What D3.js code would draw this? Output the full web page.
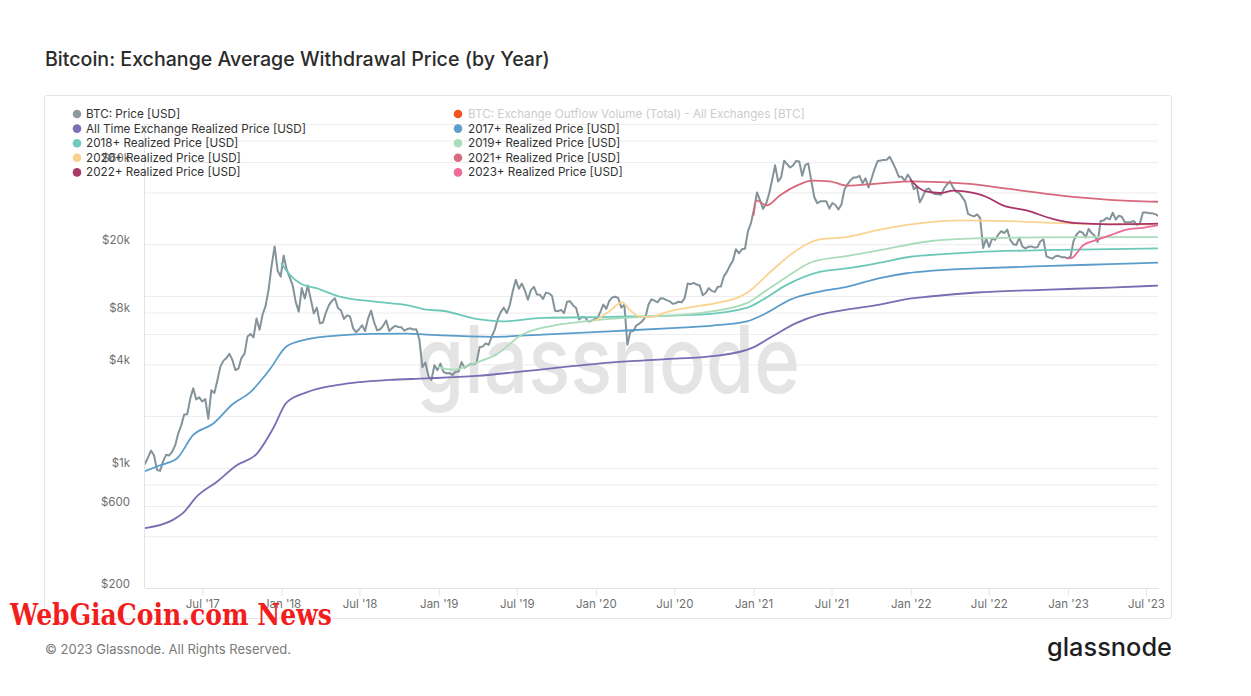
<!DOCTYPE html>
<html><head><meta charset="utf-8">
<script src="https://cdn.jsdelivr.net/npm/d3@7"></script>
<style>
html,body{margin:0;padding:0;background:#fff;}
svg{display:block;font-family:Inter,"Noto Sans",sans-serif;}
</style></head><body>
<svg id="chart" width="1251" height="696"></svg>
<script>
// ---------------- DATA ----------------
const priceStartDate = "2017-02-18"; // weekly samples from this date
const btcPrice = [
// 2017
1055,1150,1260,1180,970,960,1090,1190,1180,1240,1350,1580,1760,2040,2050,2520,2900,2500,2570,2430,2510,1930,2830,2720,3220,3880,4190,4350,4600,4230,3700,3780,4360,4600,5800,6000,5750,7400,6350,7800,8750,10900,15000,19400,14000,12950,
// 2018
17200,14200,12800,11500,9200,8100,11100,9650,11500,9550,7900,8550,6920,7000,8000,8850,9350,9700,8500,8230,7350,7700,7600,6500,6150,6400,6750,6250,7400,8200,7030,6300,6400,6700,7200,6250,6500,6700,6600,6580,6280,6420,6480,6380,6400,5580,3850,4100,3430,3250,3950,3700,
// 2019
4040,3620,3550,3560,3470,3620,3630,4120,3820,3920,4010,4000,4110,5040,5070,5300,5200,5800,6350,7350,8050,8550,7950,8850,10700,12400,11000,11800,10750,9500,10800,11300,10200,10150,9600,10450,10350,10000,8200,8150,8300,7950,9250,9300,8800,8500,7300,7550,7500,7100,7150,7300,
// 2020
7400,8050,8900,8400,9350,9800,9900,9700,8550,8900,5200,6200,6250,6750,6900,7150,7550,8900,9550,9380,9180,9700,9650,9450,9300,9000,9070,9250,9170,9700,11800,11700,11900,11650,11500,10100,10400,11100,10700,10550,11300,11350,13000,13800,15000,16000,18700,17700,18700,18800,23800,26500,
// 2021
32000,40000,36000,32100,34300,39300,47100,57500,46300,48900,61200,58300,55800,57600,61000,60500,50000,57800,58800,46800,37500,34600,35500,35500,35500,32200,34700,33800,31800,34000,41600,44600,47100,48900,48900,50000,45200,48300,42700,48200,54900,60900,61300,61800,62000,64500,59700,54800,49400,49400,46700,50800,
// 2022
47700,41800,43100,35000,37900,41500,42200,40000,39100,39000,38800,42000,44500,46400,42800,40400,39700,37700,35500,30000,29400,29000,29800,28400,19000,21500,19300,21600,21200,22700,23800,23200,24300,21200,20000,19800,21800,19400,18900,19300,19400,19100,19200,20800,21300,17000,16700,16500,17000,17100,16800,16800,16550,
// 2023
16950,20900,22750,23750,23350,21850,24550,23200,22350,20600,27400,27500,28450,27900,30450,27800,29300,28900,26800,26850,26900,27250,25850,26350,30550,30600,30300,30300,29900,29300
];

const allTimeRP = [["2017-02-18",446],["2017-04-24",498],["2017-05-17",545],["2017-06-18",680],["2017-08-04",830],["2017-09-19",1035],["2017-11-05",1210],["2017-12-12",1687],["2018-01-13",2404],["2018-02-28",2747],["2018-04-29",3000],["2018-06-24",3137],["2018-09-09",3247],["2018-12-03",3311],["2019-03-29",3425],["2019-08-30",3743],["2020-02-01",4093],["2020-06-04",4277],["2020-10-14",4510],["2020-12-30",5000],["2021-02-14",5830],["2021-04-11",6966],["2021-06-03",7780],["2021-08-05",8317],["2021-10-21",8890],["2021-12-22",9580],["2022-02-14",9920],["2022-06-03",10470],["2022-11-03",10850],["2023-04-08",11180],["2023-07-29",11480]];

const rp2017 = [["2017-02-18",956],["2017-03-25",1035],["2017-05-03",1132],["2017-06-09",1543],["2017-07-26",1803],["2017-09-10",2350],["2017-10-20",2747],["2017-12-05",3743],["2018-01-13",5100],["2018-02-28",5580],["2018-05-16",5890],["2018-07-31",6015],["2018-10-18",6040],["2018-12-03",5960],["2019-01-10",5890],["2019-05-06",5780],["2019-08-30",5960],["2020-02-01",6225],["2020-07-06",6520],["2020-09-28",6720],["2020-12-16",7110],["2021-01-31",7950],["2021-03-26",9490],["2021-06-03",10600],["2021-08-05",11300],["2021-10-21",12700],["2021-12-22",13550],["2022-02-14",14000],["2022-06-03",14450],["2022-11-03",14900],["2023-04-08",15300],["2023-07-29",15600]];

const rp2018 = [["2018-01-01",15400],["2018-01-20",13300],["2018-02-13",11860],["2018-03-23",11090],["2018-05-16",9920],["2018-07-31",9290],["2018-10-25",8770],["2018-12-03",8315],["2019-01-10",8200],["2019-03-29",7345],["2019-05-29",7110],["2019-08-30",7445],["2020-02-01",7550],["2020-08-29",7780],["2020-12-16",8510],["2021-01-22",9490],["2021-03-19",11600],["2021-06-03",13800],["2021-08-05",14450],["2021-10-21",15600],["2022-01-01",16900],["2022-02-14",17300],["2022-06-03",18000],["2022-11-03",18450],["2023-07-29",18900]];

const rp2019 = [["2019-01-01",3850],["2019-02-02",3720],["2019-03-29",4093],["2019-05-15",4570],["2019-07-14",5960],["2019-09-15",6660],["2019-11-17",7020],["2020-02-01",7345],["2020-04-19",7550],["2020-08-29",7950],["2020-12-16",9080],["2021-01-22",10400],["2021-03-19",12900],["2021-05-18",15800],["2021-08-05",17050],["2021-10-21",18450],["2022-02-14",20800],["2022-06-03",21600],["2022-11-03",21900],["2023-07-29",22000]];

const rp2020 = [["2020-01-01",7200],["2020-02-01",8130],["2020-03-02",9160],["2020-03-19",8315],["2020-04-11",7600],["2020-05-04",7550],["2020-06-19",8130],["2020-08-29",8770],["2020-09-28",9000],["2020-12-16",10400],["2021-02-14",14150],["2021-04-11",18450],["2021-06-03",21300],["2021-08-05",22000],["2021-10-21",24300],["2022-02-14",26900],["2022-04-24",27500],["2022-08-18",27200],["2023-01-21",26300],["2023-07-29",26000]];

const rp2021 = [["2021-01-01",29500],["2021-01-08",36000],["2021-01-31",33600],["2021-03-03",38400],["2021-04-11",43800],["2021-05-18",46800],["2021-06-27",46400],["2021-08-05",43800],["2021-10-21",45200],["2022-01-05",46400],["2022-05-18",44800],["2022-08-18",41900],["2022-12-12",38400],["2023-04-08",36200],["2023-07-29",35300]];

const rp2022 = [["2022-01-01",47200],["2022-01-20",42500],["2022-02-05",40500],["2022-03-10",39700],["2022-04-10",41000],["2022-05-05",40600],["2022-06-03",39300],["2022-06-27",37500],["2022-08-03",33600],["2022-09-27",31400],["2022-11-26",28100],["2023-01-21",26500],["2023-04-08",26100],["2023-07-29",26300]];

const rp2023 = [["2023-01-01",16550],["2023-01-10",16650],["2023-01-21",17660],["2023-02-05",19700],["2023-03-08",21100],["2023-04-08",22500],["2023-05-17",24300],["2023-06-24",24900],["2023-07-29",25800]];

const yTickValues = [200,600,1000,4000,8000,20000,60000];
const yTickLabels = ["$200","$600","$1k","$4k","$8k","$20k","$60k"];
const yGridValues = [400,600,800,1000,2000,4000,6000,8000,10000,20000,40000,60000,80000,100000];
const xTickDates = ["2017-07-01","2018-01-01","2018-07-01","2019-01-01","2019-07-01","2020-01-01","2020-07-01","2021-01-01","2021-07-01","2022-01-01","2022-07-01","2023-01-01","2023-07-01"];
const xTickLabels = ["Jul '17","Jan '18","Jul '18","Jan '19","Jul '19","Jan '20","Jul '20","Jan '21","Jul '21","Jan '22","Jul '22","Jan '23","Jul '23"];

const legendNames = ["BTC: Price [USD]","BTC: Exchange Outflow Volume (Total) - All Exchanges [BTC]","All Time Exchange Realized Price [USD]","2017+ Realized Price [USD]","2018+ Realized Price [USD]","2019+ Realized Price [USD]","2020+ Realized Price [USD]","2021+ Realized Price [USD]","2022+ Realized Price [USD]","2023+ Realized Price [USD]"];
const legendColors = ["#8d9aa0","#f4511e","#7f70b5","#5f9ecb","#6ecabc","#a9dcb8","#fad08e","#d86c7e","#a83a6b","#f06b97"];
const legendHidden = [false,true,false,false,false,false,false,false,false,false];

// ---------------- CHART ----------------
const parse = d3.timeParse("%Y-%m-%d");
const svg = d3.select("#chart");
const P = {left:145, right:1158, top:124, bottom:588};

const x = d3.scaleTime().domain([parse("2017-02-18"), parse("2023-07-29")]).range([P.left, P.right]);
const y = d3.scaleLog().domain([200,100000]).range([P.bottom, P.top]);

// background card
svg.append("rect").attr("width",1251).attr("height",696).attr("fill","#fff");
svg.append("rect").attr("x",44.5).attr("y",95.5).attr("width",1127).attr("height",523)
  .attr("rx",2).attr("fill","#fff").attr("stroke","#e4e4e4");

// title
svg.append("text").attr("x",45).attr("y",66).attr("font-size",19.6).attr("font-weight",500)
  .attr("fill","#2b2b2b").text("Bitcoin: Exchange Average Withdrawal Price (by Year)");

// gridlines
svg.append("g").attr("transform",`translate(${P.left},0)`)
  .call(d3.axisLeft(y).tickValues(yGridValues).tickSize(-(P.right-P.left)).tickFormat(""))
  .call(g=>g.select(".domain").remove())
  .call(g=>g.selectAll("line").attr("stroke","#ededed"));

// y axis line
svg.append("line").attr("x1",P.left-0.5).attr("x2",P.left-0.5).attr("y1",P.top).attr("y2",P.bottom)
  .attr("stroke","#dfe4ea");

// watermark
svg.append("text").attr("x",416).attr("y",393).attr("font-size",93).attr("font-weight",500)
  .attr("fill","#e4e4e4").attr("textLength",384).attr("lengthAdjust","spacingAndGlyphs").text("glassnode");

// y axis labels
svg.append("g").attr("transform",`translate(${P.left},0)`)
  .call(d3.axisLeft(y).tickValues(yTickValues).tickSize(0).tickPadding(15).tickFormat((d,i)=>yTickLabels[i]))
  .call(g=>g.select(".domain").remove())
  .call(g=>g.selectAll("text").attr("y",-5).attr("dy","0.35em").attr("font-size",11.5)
      .attr("font-family","Inter,'Noto Sans',sans-serif").attr("fill","#6f6f6f"));

// x axis
svg.append("g").attr("transform",`translate(0,${P.bottom})`)
  .call(d3.axisBottom(x).tickValues(xTickDates.map(parse)).tickSize(8).tickSizeOuter(0).tickPadding(4)
      .tickFormat((d,i)=>xTickLabels[i]))
  .call(g=>g.select(".domain").attr("stroke","#e2e2e2"))
  .call(g=>g.selectAll(".tick line").attr("stroke","#e6e6e6"))
  .call(g=>g.selectAll("text").attr("font-size",11.5).attr("font-family","Inter,'Noto Sans',sans-serif").attr("fill","#6f6f6f"));

// lines
const startD = parse(priceStartDate);
const priceData = btcPrice.map((v,i)=>[d3.timeDay.offset(startD,7*i), v]);
const lineLin = d3.line().x(d=>x(d[0])).y(d=>y(d[1]));
const lineSmooth = d3.line().x(d=>x(d[0])).y(d=>y(d[1])).curve(d3.curveMonotoneX);
svg.append("clipPath").attr("id","clip").append("rect")
  .attr("x",P.left).attr("y",P.top-30).attr("width",P.right-P.left).attr("height",P.bottom-P.top+30);
const lines = svg.append("g").attr("clip-path","url(#clip)").attr("fill","none")
  .attr("stroke-linejoin","round").attr("stroke-linecap","round");

lines.append("path").attr("d",lineLin(priceData)).attr("stroke","#84939a").attr("stroke-width",2);

const rpSeries = [
  [allTimeRP,"#7b6cb3"],[rp2017,"#5b9dca"],[rp2018,"#6cc9ba"],[rp2019,"#a9dcb8"],
  [rp2020,"#fbd391"],[rp2021,"#d8687b"],[rp2022,"#a8356a"],[rp2023,"#ef6897"]
];
rpSeries.forEach(([arr,col])=>{
  const data = arr.map(d=>[parse(d[0]), d[1]]);
  lines.append("path").attr("d",lineSmooth(data)).attr("stroke",col).attr("stroke-width",1.8);
});

// legend
const lg = svg.append("g").attr("font-size",11.7);
legendNames.forEach((name,i)=>{
  const col = i%2, row = Math.floor(i/2);
  const cx = col===0 ? 77 : 458, tx = col===0 ? 86 : 468;
  const cy = 114 + row*14.6;
  lg.append("circle").attr("cx",cx).attr("cy",cy).attr("r",4.3).attr("fill",legendColors[i]);
  lg.append("text").attr("x",tx).attr("y",cy).attr("dy","0.35em")
    .attr("fill",legendHidden[i] ? "#cccccc" : "#333333").text(name);
});

// footer
svg.append("text").attr("x",45).attr("y",654).attr("font-size",13).attr("fill","#7a7a7a")
  .text("© 2023 Glassnode. All Rights Reserved.");
svg.append("text").attr("x",1047).attr("y",656).attr("font-size",25).attr("font-weight",500)
  .attr("fill","#1e1e1e").attr("textLength",125).attr("lengthAdjust","spacingAndGlyphs").text("glassnode");

// overlaid watermark text
svg.append("text").attr("x",10).attr("y",625).attr("font-size",30).attr("font-weight",700)
  .attr("font-family","'DejaVu Serif',serif").attr("fill","#f21d1d")
  .attr("textLength",322).attr("lengthAdjust","spacingAndGlyphs").text("WebGiaCoin.com News");
</script>
</body></html>
